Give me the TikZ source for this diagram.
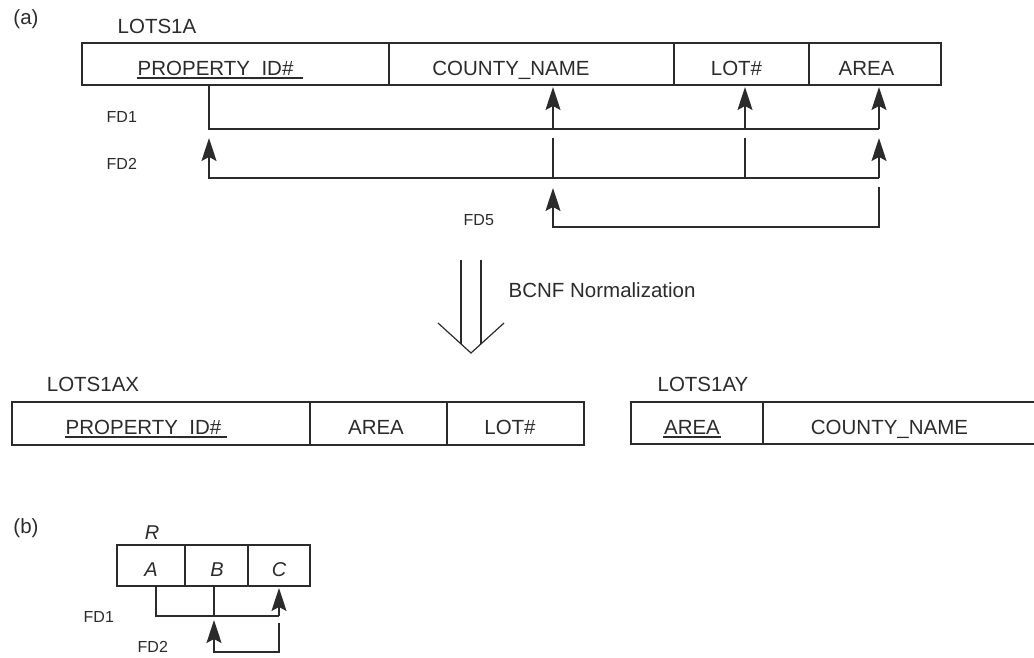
\documentclass[tikz,border=0pt]{standalone}
\usepackage{fontspec}
\setmainfont{Liberation Sans}
\usetikzlibrary{arrows.meta}
\definecolor{ink}{gray}{0.17}
\begin{document}
\begin{tikzpicture}[x=1pt,y=-1pt,line width=1.4pt,color=ink,
  lbl/.style={font=\fontsize{20.5}{24}\selectfont,text=ink,anchor=base,inner sep=0pt},
  lblw/.style={lbl,anchor=base west},
  ital/.style={lbl,font=\fontsize{20}{24}\selectfont\itshape},
  fdl/.style={font=\fontsize{16}{19}\selectfont,text=ink,anchor=base west,inner sep=0pt},
  fdarrow/.style={-{Stealth[length=23pt,width=15pt,inset=4pt]}},
  uline/.style={line width=1.2pt},
  bigarrow/.style={line width=1.2pt}]
\useasboundingbox (0,0) rectangle (1034,657);

% ---------- (a) ----------
\node[lbl] (la) at (26,24) {(a)};
\node[lbl] (lots1a) at (157,33) {LOTS1A};
\draw (82,43) rectangle (941,85);
\draw (389,43) -- (389,85);
\draw (674,43) -- (674,85);
\draw (809,43) -- (809,85);
\node[lblw] (pid) at (137,75) {PROPERTY\_ID\#};
\draw[uline] ([yshift=-3pt]pid.base west) -- ([xshift=9pt,yshift=-3pt]pid.base east);
\node[lbl] (cn) at (511,75) {COUNTY\_NAME};
\node[lbl] (lot) at (736.5,75) {LOT\#};
\node[lbl] (area) at (866.5,75) {AREA};

% FD1
\coordinate (pidB) at (209,85);
\coordinate (cnB) at (553,87);
\coordinate (lotB) at (745,87);
\coordinate (areaB) at (879,87);
\coordinate (f1a) at (209,129);
\coordinate (f1c) at (553,129);
\coordinate (f1l) at (745,129);
\coordinate (f1r) at (879,129);
\draw (pidB) -- (f1a) -- (f1r);
\draw[fdarrow] (f1c) -- (cnB);
\draw[fdarrow] (f1l) -- (lotB);
\draw[fdarrow] (f1r) -- (areaB);
\node[fdl] (fd1) at (106,122) {FD1};

% FD2
\coordinate (f2a) at (209,178);
\coordinate (f2c) at (553,178);
\coordinate (f2l) at (745,178);
\coordinate (f2r) at (879,178);
\coordinate (f2at) at (209,138);
\coordinate (f2ct) at (553,138);
\coordinate (f2lt) at (745,138);
\coordinate (f2rt) at (879,138);
\draw (f2ct) -- (f2c);
\draw (f2lt) -- (f2l);
\draw[fdarrow] (f2r) -- (f2a) -- (f2at);
\draw[fdarrow] (f2r) -- (f2rt);
\node[fdl] (fd2) at (106,169) {FD2};

% FD5
\coordinate (f5rt) at (879,187);
\coordinate (f5rb) at (879,227);
\coordinate (f5cb) at (553,227);
\coordinate (f5ct) at (553,188);
\draw[fdarrow] (f5rt) -- (f5rb) -- (f5cb) -- (f5ct);
\node[fdl] (fd5) at (463,225) {FD5};

% BCNF arrow
\coordinate (bl1) at (461,260);
\coordinate (bl2) at (461,344);
\coordinate (br1) at (481,260);
\coordinate (br2) at (481,344);
\coordinate (cl) at (438,323);
\coordinate (ctip) at (471,353);
\coordinate (cr) at (504,323);
\draw[bigarrow] (bl1) -- (bl2);
\draw[bigarrow] (br1) -- (br2);
\draw[bigarrow] (cl) -- (ctip) -- (cr);
\node[lblw] (bcnf) at (508,297) {BCNF Normalization};

% LOTS1AX
\node[lbl] (lots1ax) at (93,391) {LOTS1AX};
\draw (12,402) rectangle (584,445);
\draw (310,402) -- (310,445);
\draw (447,402) -- (447,445);
\node[lblw] (pid2) at (65,434) {PROPERTY\_ID\#};
\draw[uline] ([yshift=-3pt]pid2.base west) -- ([xshift=5pt,yshift=-3pt]pid2.base east);
\node[lbl] (area2) at (376,434) {AREA};
\node[lbl] (lot2) at (510,434) {LOT\#};

% LOTS1AY
\node[lbl] (lots1ay) at (703,391) {LOTS1AY};
\draw (1040,402) -- (631,402) -- (631,444) -- (1040,444);
\draw (763,402) -- (763,444);
\node[lbl] (area3) at (692,434) {AREA};
\draw[uline] ([yshift=-3pt]area3.base west) -- ([yshift=-3pt]area3.base east);
\node[lbl] (cn3) at (889.5,434) {COUNTY\_NAME};

% ---------- (b) ----------
\node[lbl] (lb) at (26,533) {(b)};
\node[ital] (R) at (152,539) {R};
\draw (117,545) rectangle (310,586);
\draw (185,545) -- (185,586);
\draw (248,545) -- (248,586);
\node[ital] (A) at (151,576) {A};
\node[ital] (B) at (217,576) {B};
\node[ital] (C) at (279,576) {C};
\coordinate (Ab) at (156,586);
\coordinate (Bb) at (214,586);
\coordinate (Cb) at (279,588);
\coordinate (g1a) at (156,616);
\coordinate (g1b) at (214,616);
\coordinate (g1c) at (279,616);
\draw (Ab) -- (g1a) -- (g1c);
\draw (Bb) -- (g1b);
\draw[fdarrow] (g1c) -- (Cb);
\coordinate (g2ct) at (279,623);
\coordinate (g2cb) at (279,652);
\coordinate (g2bb) at (214,652);
\coordinate (g2bt) at (214,620);
\draw[fdarrow] (g2ct) -- (g2cb) -- (g2bb) -- (g2bt);
\node[fdl] (bfd1) at (83,622) {FD1};
\node[fdl] (bfd2) at (137,652) {FD2};
\end{tikzpicture}
\end{document}
